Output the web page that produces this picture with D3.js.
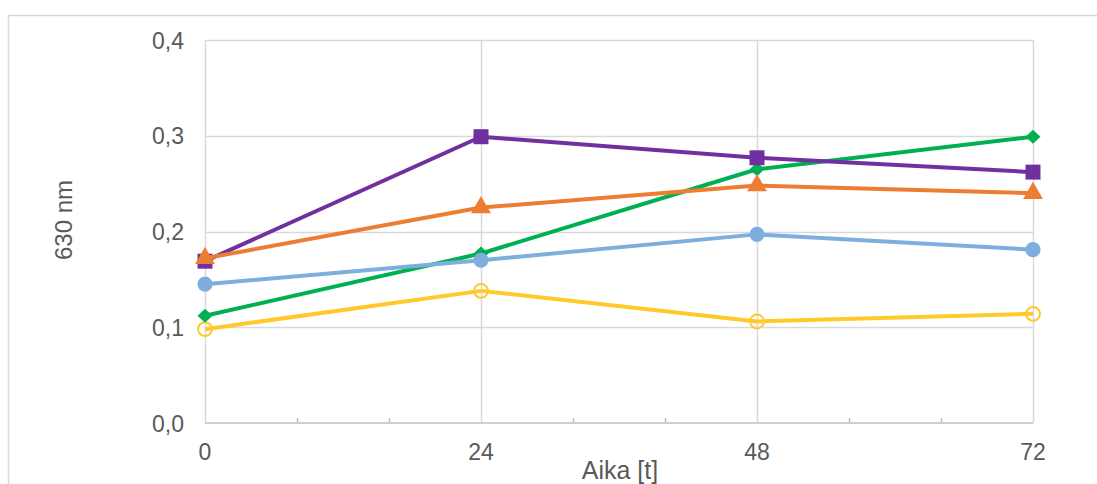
<!DOCTYPE html>
<html>
<head>
<meta charset="utf-8">
<script src="https://cdn.jsdelivr.net/npm/d3@7/dist/d3.min.js"></script>
<style>
  html, body { margin: 0; padding: 0; background: #fff; }
  svg { display: block; font-family: "Liberation Sans", Arial, sans-serif; }
</style>
</head>
<body>
<svg id="chart" width="1097" height="484"></svg>
<script>
// Time points (hours) and absorbance at 630 nm for each sample series
const hours = [0, 24, 48, 72];
const yTicks = [0, 0.1, 0.2, 0.3, 0.4];
const purpleSquares = [0.169, 0.299, 0.277, 0.262];
const orangeTriangles = [0.172, 0.225, 0.248, 0.240];
const greenDiamonds = [0.112, 0.177, 0.265, 0.299];
const blueCircles = [0.145, 0.170, 0.197, 0.181];
const yellowOpenCircles = [0.098, 0.138, 0.106, 0.114];

// drawing order (later series sit on top)
const series = [
  { values: yellowOpenCircles, color: "#FFC92C", shape: "openCircle" },
  { values: greenDiamonds, color: "#00B050", shape: "diamond" },
  { values: blueCircles, color: "#7DAEDD", shape: "circle" },
  { values: purpleSquares, color: "#7030A0", shape: "square" },
  { values: orangeTriangles, color: "#ED7D31", shape: "triangle" }
];

const svg = d3.select("#chart");
const fmt = d => d.toFixed(1).replace(".", ",");

// outer chart frame
svg.append("rect")
  .attr("x", 8.5).attr("y", 15.5)
  .attr("width", 1100).attr("height", 500)
  .attr("fill", "none").attr("stroke", "#d9d9d9").attr("stroke-width", 1.5);

const x = d3.scaleLinear().domain([0, 72]).range([205, 1033]);
const y = d3.scaleLinear().domain([0, 0.4]).range([423, 40]);

// horizontal gridlines
svg.append("g").selectAll("line").data(yTicks.slice(1)).join("line")
  .attr("x1", x(0)).attr("x2", x(72))
  .attr("y1", d => Math.round(y(d)) + 0.5).attr("y2", d => Math.round(y(d)) + 0.5)
  .attr("stroke", "#d9d9d9").attr("stroke-width", 1.5);

// vertical gridlines at the labelled hours
svg.append("g").selectAll("line").data(hours).join("line")
  .attr("x1", d => Math.round(x(d)) + 0.5).attr("x2", d => Math.round(x(d)) + 0.5)
  .attr("y1", y(0.4)).attr("y2", y(0))
  .attr("stroke", "#d9d9d9").attr("stroke-width", 1.5);

// x axis with minor ticks every 8 h
const xAxis = svg.append("g").attr("transform", `translate(0,${y(0)})`);
xAxis.append("line")
  .attr("x1", x(0)).attr("x2", x(72)).attr("y1", 0).attr("y2", 0)
  .attr("stroke", "#bfbfbf").attr("stroke-width", 1.5);
xAxis.selectAll("line.minor").data(d3.range(8, 72, 8).filter(d => d % 24 !== 0)).join("line")
  .attr("class", "minor")
  .attr("x1", d => Math.round(x(d)) + 0.5).attr("x2", d => Math.round(x(d)) + 0.5)
  .attr("y1", 0).attr("y2", -5)
  .attr("stroke", "#bfbfbf").attr("stroke-width", 1.5);
xAxis.selectAll("text").data(hours).join("text")
  .attr("x", d => x(d)).attr("y", 37)
  .attr("text-anchor", "middle")
  .attr("font-size", 23).attr("fill", "#595959")
  .text(d => d);

// y tick labels
svg.append("g").selectAll("text").data(yTicks).join("text")
  .attr("x", 184).attr("y", d => y(d) + 8.5)
  .attr("text-anchor", "end")
  .attr("font-size", 23).attr("fill", "#595959")
  .text(fmt);

// axis titles
svg.append("text")
  .attr("x", 620).attr("y", 479)
  .attr("text-anchor", "middle")
  .attr("font-size", 25).attr("fill", "#595959")
  .text("Aika [t]");
svg.append("text")
  .attr("transform", "translate(72,220) rotate(-90)")
  .attr("text-anchor", "middle")
  .attr("font-size", 24).attr("fill", "#595959")
  .text("630 nm");

// lines and markers
const line = d3.line().x((d, i) => x(hours[i])).y(d => y(d));
const diamondPath = "M0,-7L7.5,0L0,7L-7.5,0Z";
const symbols = {
  circle: d3.symbol(d3.symbolCircle, 180)(),
  openCircle: d3.symbol(d3.symbolCircle, 150)(),
  diamond: diamondPath,
  triangle: d3.symbol(d3.symbolTriangle, 170)(),
  square: d3.symbol(d3.symbolSquare, 225)()
};

series.forEach(s => {
  const g = svg.append("g");
  g.append("path")
    .attr("d", line(s.values))
    .attr("fill", "none")
    .attr("stroke", s.color)
    .attr("stroke-width", 4)
    .attr("stroke-linejoin", "round");
  g.selectAll("path.mark").data(s.values).join("path")
    .attr("class", "mark")
    .attr("transform", (d, i) => `translate(${x(hours[i])},${y(d)})`)
    .attr("d", symbols[s.shape])
    .attr("fill", s.shape === "openCircle" ? "none" : s.color)
    .attr("stroke", s.shape === "openCircle" ? s.color : "none")
    .attr("stroke-width", 2);
});
</script>
</body>
</html>
